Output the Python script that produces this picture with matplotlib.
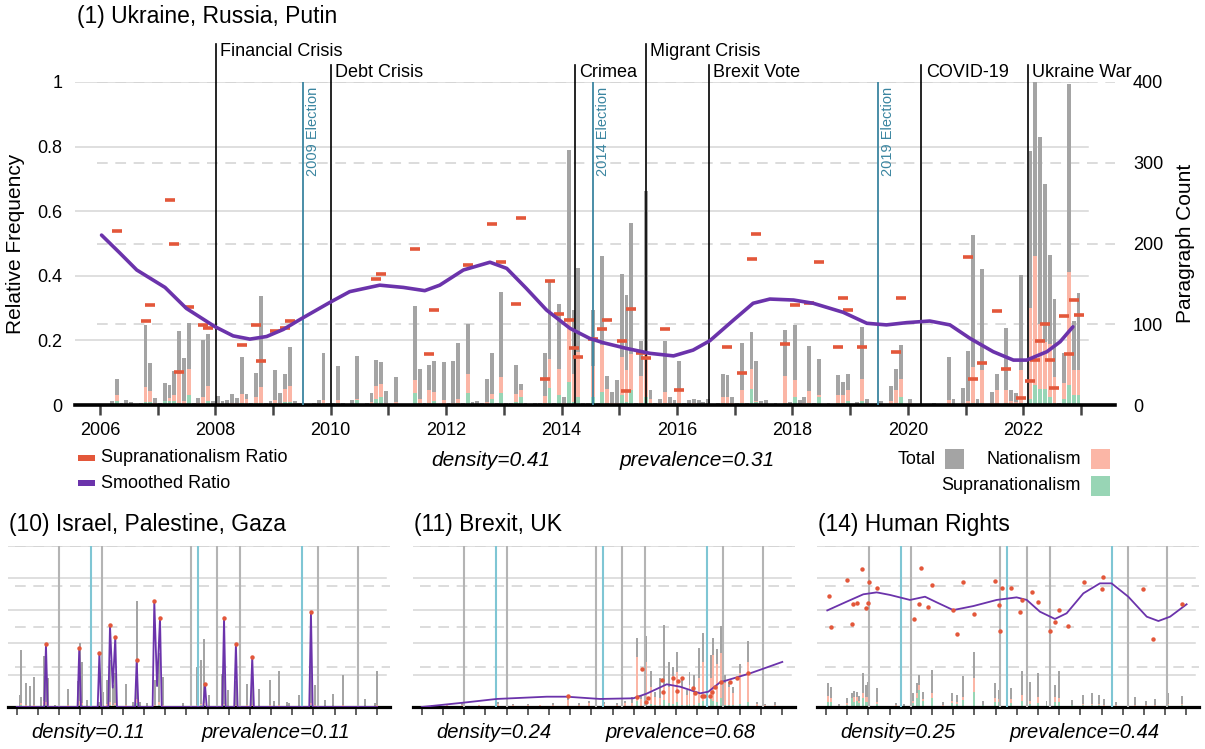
import numpy as np
import matplotlib
matplotlib.use("Agg")
import matplotlib.pyplot as plt
from matplotlib.patches import Rectangle

plt.rcParams['font.family'] = ['Liberation Sans', 'DejaVu Sans']

nan = np.nan

# ---------------- main panel: monthly values, Jan 2006 .. Dec 2022 ----------------
total_rows = [
    [0, 0, 5, 32, 3, 6, 4, 0, 2, 99, 52, 9],            # 2006
    [3, 27, 25, 42, 92, 58, 101, 2, 9, 80, 88, 5],      # 2007
    [11, 5, 6, 14, 9, 60, 14, 2, 40, 135, 2, 5],        # 2008
    [43, 15, 38, 72, 5, 2, 1, 1, 2, 6, 65, 3],          # 2009
    [2, 48, 2, 1, 6, 61, 1, 2, 15, 56, 53, 17],         # 2010
    [1, 35, 1, 1, 1, 122, 44, 2, 50, 55, 1, 53],        # 2011
    [2, 55, 77, 3, 100, 4, 5, 2, 32, 64, 2, 140],       # 2012
    [2, 3, 50, 26, 3, 1, 3, 2, 65, 152, 2, 125],        # 2013
    [10, 316, 118, 170, 2, 3, 118, 2, 184, 36, 16, 31], # 2014
    [162, 136, 225, 3, 79, 265, 19, 3, 7, 79, 10, 6],   # 2015
    [54, 3, 6, 8, 6, 4, 7, 1, 2, 38, 37, 10],           # 2016
    [2, 77, 2, 91, 54, 5, 6, 1, 2, 1, 93, 4],           # 2017
    [99, 6, 10, 73, 2, 57, 1, 2, 1, 37, 29, 38],        # 2018
    [1, 4, 97, 8, 1, 1, 5, 1, 24, 45, 74, 1],           # 2019
    [8, 1, 1, 1, 1, 2, 0, 1, 60, 7, 1, 21],             # 2020
    [67, 211, 7, 168, 1, 16, 39, 1, 95, 19, 15, 161],   # 2021
    [2, 314, 400, 332, 274, 186, 131, 2, 64, 397, 104, 139],  # 2022
]
nationalism_rows = [
    [0, 0, 1, 12, 0, 1, 0, 0, 0, 22, 17, 2],
    [0, 5, 9, 12, 38, 5, 44, 0, 2, 10, 24, 1],
    [2, 1, 1, 3, 2, 14, 7, 0, 10, 22, 0, 1],
    [6, 2, 20, 23, 1, 0, 0, 0, 0, 1, 6, 0],
    [0, 6, 0, 0, 1, 8, 0, 0, 4, 23, 26, 3],
    [0, 4, 0, 0, 0, 31, 8, 0, 18, 16, 0, 6],
    [0, 2, 8, 0, 38, 1, 1, 0, 4, 14, 0, 35],
    [0, 1, 14, 19, 1, 0, 1, 0, 11, 57, 0, 44],
    [3, 105, 39, 66, 0, 1, 48, 0, 74, 20, 3, 2],
    [59, 43, 63, 1, 36, 66, 8, 1, 2, 16, 2, 1],
    [19, 1, 1, 2, 1, 1, 1, 0, 0, 10, 10, 2],
    [0, 19, 0, 44, 5, 1, 1, 0, 0, 0, 36, 1],
    [31, 1, 2, 17, 0, 12, 0, 0, 0, 12, 13, 18],
    [0, 1, 32, 2, 0, 0, 1, 0, 5, 19, 32, 0],
    [2, 0, 0, 0, 0, 0, 0, 0, 6, 1, 0, 3],
    [5, 47, 1, 43, 0, 3, 18, 0, 19, 5, 4, 43],
    [0, 120, 184, 100, 78, 76, 35, 0, 27, 165, 43, 43],
]
supranationalism_rows = [
    [0, 0, 0, 5, 0, 0, 0, 0, 0, 4, 4, 1],
    [0, 5, 5, 5, 3, 1, 12, 0, 1, 1, 5, 0],
    [1, 0, 0, 1, 1, 2, 1, 0, 2, 3, 0, 0],
    [2, 1, 4, 4, 0, 0, 0, 0, 0, 0, 2, 0],
    [0, 2, 0, 0, 0, 6, 0, 0, 1, 8, 10, 1],
    [0, 1, 0, 0, 0, 15, 2, 0, 2, 5, 0, 1],
    [0, 1, 2, 0, 15, 0, 0, 0, 1, 8, 0, 15],
    [0, 0, 4, 10, 0, 0, 0, 0, 2, 21, 0, 12],
    [1, 29, 4, 10, 0, 0, 10, 0, 16, 3, 1, 0],
    [12, 4, 19, 0, 3, 10, 2, 0, 0, 3, 0, 0],
    [2, 0, 0, 0, 0, 0, 0, 0, 0, 2, 1, 0],
    [0, 3, 0, 20, 4, 0, 0, 0, 0, 0, 3, 0],
    [10, 0, 1, 2, 0, 10, 0, 0, 0, 3, 2, 5],
    [0, 0, 5, 1, 0, 0, 0, 0, 1, 3, 10, 0],
    [0, 0, 0, 0, 0, 0, 0, 0, 1, 0, 0, 0],
    [1, 3, 0, 2, 0, 0, 1, 0, 2, 1, 0, 2],
    [0, 7, 25, 20, 20, 10, 3, 0, 7, 25, 12, 12],
]
ratio_rows = [
    [nan, nan, nan, .538, nan, nan, nan, nan, nan, .259, .31, nan],
    [nan, nan, .635, .498, .103, nan, .303, nan, nan, .249, .238, nan],
    [nan, nan, nan, nan, nan, .186, nan, nan, .249, .135, nan, nan],
    [.23, nan, .237, .259, nan, nan, nan, nan, nan, nan, nan, nan],
    [nan, nan, nan, nan, nan, nan, nan, nan, nan, .39, .406, nan],
    [nan, nan, nan, nan, nan, .483, nan, nan, .157, .293, nan, nan],
    [nan, nan, nan, nan, .434, nan, nan, nan, nan, .561, nan, .444],
    [nan, nan, .312, .578, nan, nan, nan, nan, .082, .385, nan, .282],
    [nan, .262, .175, .148, nan, nan, .203, nan, .235, .262, nan, nan],
    [.199, .044, .296, nan, .16, .144, nan, nan, nan, .234, nan, nan],
    [.046, nan, nan, nan, nan, nan, nan, nan, nan, nan, .18, nan],
    [nan, .1, nan, .453, .528, nan, nan, nan, nan, nan, .188, nan],
    [.31, nan, nan, .315, nan, .444, nan, nan, nan, .181, .332, .293],
    [nan, nan, .181, nan, nan, nan, nan, nan, nan, .165, .332, nan],
    [nan] * 12,
    [.459, .082, nan, .131, nan, nan, .292, nan, .111, nan, nan, .022],
    [nan, .074, .139, .199, .25, .139, .054, nan, .275, .157, .324, .279],
]
smooth_t = [2006.03, 2006.35, 2006.64, 2007.13, 2007.5, 2007.99, 2008.31, 2008.6, 2008.89,
            2009.18, 2009.5, 2009.99, 2010.33, 2010.85, 2011.26, 2011.63, 2011.89, 2012.3,
            2012.76, 2013.05, 2013.39, 2013.74, 2014.15, 2014.49, 2014.72, 2015.13, 2015.53,
            2015.94, 2016.28, 2016.57, 2016.98, 2017.32, 2017.61, 2018.02, 2018.36, 2018.88,
            2019.29, 2019.63, 2019.98, 2020.38, 2020.73, 2021.08, 2021.48, 2021.83, 2022.06,
            2022.41, 2022.64, 2022.86]
smooth_v = [.526, .470, .418, .364, .299, .243, .214, .204, .212, .234, .268, .318,
            .351, .371, .364, .354, .371, .418, .442, .423, .361, .294, .237, .206,
            .193, .175, .160, .152, .170, .199, .263, .315, .328, .325, .315, .287,
            .253, .248, .255, .260, .248, .206, .165, .139, .139, .165, .196, .242]

event_names = ['Financial Crisis', 'Debt Crisis', 'Crimea', 'Migrant Crisis',
               'Brexit Vote', 'COVID-19', 'Ukraine War']
event_years = [2008.01, 2010.0, 2014.23, 2015.46, 2016.55, 2020.23, 2022.08]
event_high = [True, False, False, True, False, False, False]
election_names = ['2009 Election', '2014 Election', '2019 Election']
election_years = [2009.52, 2014.54, 2019.48]

# ---------------- small panels ----------------
isr_bar_t = [2006.13, 2006.19, 2006.44, 2006.63, 2006.82, 2007.13, 2007.30, 2007.38, 2007.46, 2007.80,
             2007.97, 2008.44, 2008.88, 2008.99, 2009.08, 2009.33, 2009.90, 2010.09, 2010.28, 2010.40,
             2010.53, 2010.65, 2011.16, 2011.47, 2011.66, 2011.82, 2012.13, 2012.52, 2012.73, 2012.92,
             2013.86, 2014.52, 2014.68, 2014.84, 2015.09, 2015.67, 2015.78, 2015.98, 2016.35, 2016.85,
             2017.12, 2017.45, 2017.95, 2018.14, 2018.37, 2018.74, 2018.86, 2019.32, 2019.88, 2020.07,
             2020.54, 2020.94, 2021.41, 2022.43, 2022.90, 2022.98]
isr_total = [30, 142, 59, 52, 75, 24, 127, 117, 71, 5, 34, 45, 65, 160, 113, 17, 13, 38, 67, 117,
             55, 84, 57, 13, 263, 13, 9, 67, 135, 75, 9, 99, 117, 169, 30, 82, 125, 42, 65, 57,
             96, 45, 67, 15, 90, 13, 11, 30, 108, 55, 17, 32, 79, 19, 9, 90]
isr_nat = [3, 10, 4, 3, 5, 2, 15, 12, 6, 0, 3, 4, 6, 15, 10, 2, 1, 3, 8, 12, 5, 10, 4, 1, 20, 1, 1, 5,
           12, 6, 1, 6, 8, 10, 2, 6, 8, 3, 5, 4, 6, 3, 5, 1, 6, 1, 1, 2, 10, 4, 1, 2, 5, 1, 1, 5]
isr_sup = [1, 4, 1, 1, 2, 0, 5, 4, 2, 0, 1, 1, 2, 6, 4, 0, 0, 1, 3, 6, 2, 4, 1, 0, 10, 0, 0, 2,
           6, 3, 0, 3, 4, 5, 1, 3, 4, 1, 2, 2, 3, 1, 2, 0, 3, 0, 0, 1, 5, 2, 0, 1, 3, 0, 0, 2]
isr_dot_t = [2007.38, 2008.95, 2009.90, 2010.40, 2010.65, 2011.66, 2012.49, 2012.76, 2014.88,
             2015.78, 2016.34, 2017.11, 2019.88]
isr_dot_v = [.389, .368, .337, .509, .435, .29, .658, .555, .143, .555, .391, .312, .592]
isr_line_t = [2006.0, 2007.30, 2007.38, 2007.46, 2008.87, 2008.95, 2009.03, 2009.82, 2009.90, 2009.98,
              2010.32, 2010.40, 2010.53, 2010.65, 2010.73, 2011.58, 2011.66, 2011.74, 2012.41, 2012.49,
              2012.62, 2012.76, 2012.84, 2014.80, 2014.88, 2014.96, 2015.70, 2015.78, 2015.86, 2016.26,
              2016.34, 2016.42, 2017.03, 2017.11, 2017.19, 2019.80, 2019.88, 2019.96, 2023.0]
isr_line_v = [0, 0, .389, 0, 0, .368, 0, 0, .337, 0, 0, .509, .12, .435, 0, 0, .29, 0, 0, .658,
              .13, .555, 0, 0, .143, 0, 0, .555, 0, 0, .391, 0, 0, .312, 0, 0, .592, 0, 0]

brx_bar_t = [2006.5, 2007.2, 2007.9, 2008.7, 2009.6, 2010.3, 2011.0, 2011.6, 2012.2, 2012.92,
             2013.4, 2013.9, 2014.6, 2015.2, 2015.6, 2015.94, 2016.14, 2016.33, 2016.58, 2016.80,
             2017.01, 2017.24, 2017.43, 2017.67, 2017.87, 2018.06, 2018.26, 2018.50, 2018.63, 2018.85,
             2019.10, 2019.25, 2019.47, 2019.63, 2019.76, 2019.91, 2020.10, 2020.31, 2020.51, 2020.70,
             2021.02, 2021.41, 2021.83, 2022.2, 2022.67]
brx_total = [5, 8, 10, 6, 12, 8, 7, 6, 9, 25, 10, 14, 12, 9, 15, 26, 172, 30, 176, 89,
             38, 71, 204, 113, 100, 137, 71, 42, 88, 79, 146, 183, 154, 129, 171, 143, 202, 79, 63, 50,
             106, 164, 13, 8, 13]
brx_nat = [3, 5, 6, 4, 8, 5, 4, 4, 6, 18, 6, 9, 8, 6, 10, 10, 125, 20, 113, 50,
           25, 22, 55, 50, 78, 88, 50, 30, 55, 42, 71, 113, 22, 71, 129, 108, 133, 60, 50, 35,
           84, 113, 8, 5, 5]
brx_sup = [0, 1, 1, 0, 2, 1, 1, 0, 1, 3, 1, 2, 1, 1, 2, 3, 15, 3, 12, 8,
           4, 6, 18, 10, 8, 12, 6, 4, 8, 6, 10, 14, 8, 20, 15, 12, 22, 6, 5, 4,
           8, 12, 1, 1, 1]
brx_dot_t = [2012.92, 2016.14, 2016.38, 2016.58, 2016.69, 2017.32, 2017.40, 2017.87, 2018.03, 2018.11,
             2018.26, 2018.81, 2018.89, 2019.21, 2019.32, 2019.60, 2019.71, 2019.84, 2020.10, 2020.54,
             2020.86, 2021.41]
brx_dot_v = [.068, .064, .234, .033, .054, .168, .091, .178, .099, .161, .178, .120, .085, .070,
             .070, .070, .095, .126, .157, .153, .178, .213]
brx_line_t = [2006.0, 2007.97, 2009.54, 2011.9, 2012.84, 2014.41, 2015.98, 2016.61, 2017.56,
              2018.19, 2019.13, 2019.52, 2020.07, 2021.49, 2023.01]
brx_line_v = [0.0, .027, .05, .064, .064, .05, .054, .083, .141, .126, .085, .095, .153, .209, .28]

hr_bar_t = [2006.11, 2006.24, 2006.6, 2006.97, 2007.21, 2007.32, 2007.45, 2007.57, 2007.73, 2007.87,
            2008.0, 2008.39, 2009.3, 2009.7, 2010.12, 2010.28, 2010.40, 2010.56, 2010.98, 2011.5,
            2011.93, 2012.16, 2012.48, 2012.98, 2013.4, 2013.99, 2014.16, 2014.71, 2015.26, 2015.62,
            2015.98, 2016.4, 2016.82, 2017.01, 2017.6, 2018.14, 2018.53, 2018.88, 2019.1, 2019.7,
            2020.58, 2021.1, 2021.5, 2022.15, 2022.78]
hr_total = [60, 50, 8, 22, 36, 40, 38, 28, 85, 55, 61, 48, 10, 8, 34, 59, 79, 38, 92, 12,
            34, 30, 77, 137, 15, 60, 42, 48, 90, 61, 85, 15, 55, 90, 18, 30, 34, 30, 20, 12,
            24, 14, 20, 34, 27]
hr_nat = [28, 22, 3, 10, 22, 26, 26, 15, 34, 26, 26, 13, 4, 3, 15, 34, 55, 20, 34, 5,
          15, 12, 26, 71, 6, 22, 20, 20, 30, 15, 26, 6, 26, 22, 6, 8, 8, 8, 6, 4,
          6, 4, 6, 8, 8]
hr_sup = [13, 12, 2, 5, 22, 13, 15, 10, 23, 13, 13, 8, 3, 2, 10, 22, 42, 15, 22, 3,
          10, 8, 17, 38, 4, 13, 12, 10, 15, 8, 10, 4, 13, 13, 4, 4, 4, 4, 3, 2,
          3, 2, 3, 4, 4]
hr_dot_t = [2006.16, 2006.22, 2006.97, 2007.21, 2007.29, 2007.48, 2007.71, 2007.89, 2007.97, 2008.04,
            2008.39, 2010.17, 2010.39, 2010.48, 2010.80, 2010.98, 2011.97, 2012.16, 2012.48, 2012.98,
            2013.99, 2014.16, 2014.22, 2014.32, 2014.74, 2015.15, 2015.23, 2015.73, 2015.98, 2016.57,
            2016.82, 2017.01, 2017.40, 2018.17, 2019.0, 2019.08, 2020.94, 2021.41, 2022.78]
hr_dot_v = [.692, .499, .789, .518, .642, .644, .855, .617, .646, .774,
            .741, .547, .638, .865, .619, .758, .602, .453, .774, .578,
            .783, .634, .472, .737, .741, .592, .667, .712, .654, .472,
            .526, .6, .501, .774, .731, .805, .731, .42, .638]
hr_line_t = [2006.06, 2006.97, 2007.76, 2008.39, 2009.02, 2009.96, 2010.67, 2011.22, 2012.0, 2012.95,
             2014.05, 2014.99, 2015.47, 2016.09, 2016.8, 2017.35, 2018.14, 2018.92, 2019.47, 2020.26,
             2021.13, 2021.68, 2022.23, 2023.01]
hr_line_v = [.6, .654, .7, .712, .696, .665, .685, .65, .602, .627, .665, .681, .665, .592, .547,
             .582, .706, .768, .768, .685, .561, .534, .561, .638]

RATIO_TICKS = [0, 0.2, 0.4, 0.6, 0.8, 1.0]
COUNT_TICKS = [0, 100, 200, 300, 400]
XLIM = (2005.57, 2023.59)

GRAY = '#a4a4a4'
SALMON = '#fbb6a6'
GREEN = '#98d5b5'
RED = '#e3573a'
PURPLE = '#6b33ab'
TEAL = '#3a85a0'
TEAL_LIGHT = '#7fc6d4'
EVENT_GRAY = '#b4b4b4'

FIG_W, FIG_H = 1205, 749
fig = plt.figure(figsize=(FIG_W / 100, FIG_H / 100), dpi=100)


def px_axes(left, top, right, bottom):
    return fig.add_axes([left / FIG_W, 1 - bottom / FIG_H,
                         (right - left) / FIG_W, (bottom - top) / FIG_H])


def px_text(x, y, s, **kw):
    fig.text(x / FIG_W, 1 - y / FIG_H, s, **kw)


def px_rect(x, y, w, h, color):
    fig.add_artist(Rectangle((x / FIG_W, 1 - (y + h) / FIG_H), w / FIG_W, h / FIG_H,
                             transform=fig.transFigure, color=color, lw=0))


def setup_panel(ax, solid_to, dash_from, spine_w):
    ax.set_xlim(*XLIM)
    ax.set_ylim(0, COUNT_TICKS[-1])
    for side in ('top', 'left', 'right'):
        ax.spines[side].set_visible(False)
    ax.spines['bottom'].set_linewidth(spine_w)
    ax.spines['bottom'].set_zorder(10)
    ax.set_xticks(range(2006, 2024))
    for v in RATIO_TICKS[1:]:
        ax.axhline(v * COUNT_TICKS[-1], xmin=0, xmax=solid_to, color='#d6d6d6', lw=1.1, zorder=0)
    for c in COUNT_TICKS[1:]:
        ax.axhline(c, xmin=dash_from, xmax=1, color='#d2d2d2', lw=1.1, ls=(0, (7, 5)), zorder=0)
    axr = ax.twinx()
    axr.set_xlim(*XLIM)
    axr.set_ylim(0, 1)
    for s in axr.spines.values():
        s.set_visible(False)
    return axr


def draw_bars(ax, t, tot, nat, sup, width):
    ax.bar(t, tot, width=width, color=GRAY, lw=0, zorder=2)
    ax.bar(t, nat, width=width, color=SALMON, lw=0, zorder=3)
    ax.bar(t, sup, width=width, color=GREEN, lw=0, zorder=4)


# ================= main panel =================
total = np.array(total_rows, float).ravel()
nationalism = np.array(nationalism_rows, float).ravel()
supra = np.array(supranationalism_rows, float).ravel()
ratio = np.array(ratio_rows, float).ravel()
month_t = 2006 + (np.arange(total.size) + 0.5) / 12

ax = px_axes(75, 82, 1115, 405)
axr = setup_panel(ax, solid_to=0.974, dash_from=0.021, spine_w=2.6)
draw_bars(ax, month_t, total, nationalism, supra, 0.8 / 12)

ax.set_xticklabels([str(y) if y % 2 == 0 and y < 2023 else '' for y in range(2006, 2024)])
ax.tick_params(axis='x', direction='out', length=7, width=1.8, color='#444444',
               labelsize=13, pad=5)
ax.yaxis.tick_right()
ax.yaxis.set_label_position('right')
ax.set_yticks(COUNT_TICKS)
ax.set_yticklabels([str(c) for c in COUNT_TICKS])
ax.tick_params(axis='y', length=0, pad=13, labelsize=13)
ax.set_ylabel('Paragraph Count', fontsize=15, labelpad=9)

axr.yaxis.tick_left()
axr.yaxis.set_label_position('left')
axr.set_yticks(RATIO_TICKS)
axr.set_yticklabels(['0', '0.2', '0.4', '0.6', '0.8', '1'])
axr.tick_params(axis='y', length=0, pad=9, labelsize=13)
axr.set_ylabel('Relative Frequency', fontsize=15, labelpad=9)

for name, yr, high in zip(event_names, event_years, event_high):
    top = 1.118 if high else 1.053
    axr.plot([yr, yr], [0, top], color='black', lw=1.2, clip_on=False, zorder=2)
    axr.text(yr + 0.08, top + 0.004, name, fontsize=13, ha='left', va='top', clip_on=False)
for name, yr in zip(election_names, election_years):
    axr.plot([yr, yr], [0, 1.0], color=TEAL, lw=1.3, zorder=2)
    axr.text(yr + 0.05, 0.985, name, fontsize=10.5, color=TEAL, rotation=90,
             ha='left', va='top')

axr.plot(month_t, ratio, ls='none', marker='_', ms=7, mew=2.6, color=RED, zorder=3)
axr.plot(smooth_t, smooth_v, color=PURPLE, lw=2.6, zorder=4, solid_capstyle='round')

px_text(77, 17, '(1) Ukraine, Russia, Putin', fontsize=16.5, va='center', ha='left')

# legend row under the main panel
px_rect(78, 455, 17, 6, RED)
px_text(101, 458, 'Supranationalism Ratio', fontsize=13, va='center')
px_rect(78, 480, 17, 6, PURPLE)
px_text(101, 484, 'Smoothed Ratio', fontsize=13, va='center')
px_text(491, 460, 'density=0.41', fontsize=15, style='italic', ha='center', va='center')
px_text(697, 460, 'prevalence=0.31', fontsize=15, style='italic', ha='center', va='center')
px_text(936, 459, 'Total', fontsize=13, ha='right', va='center')
px_rect(945, 449, 19, 20, GRAY)
px_text(1081, 459, 'Nationalism', fontsize=13, ha='right', va='center')
px_rect(1091, 449, 19, 20, SALMON)
px_text(1081, 485, 'Supranationalism', fontsize=13, ha='right', va='center')
px_rect(1091, 476, 19, 20, GREEN)

# ================= small panels =================
small_panels = [
    ('(10) Israel, Palestine, Gaza', 7.6, isr_bar_t, isr_total, isr_nat, isr_sup,
     isr_dot_t, isr_dot_v, isr_line_t, isr_line_v, 'density=0.11', 'prevalence=0.11'),
    ('(11) Brexit, UK', 412.6, brx_bar_t, brx_total, brx_nat, brx_sup,
     brx_dot_t, brx_dot_v, brx_line_t, brx_line_v, 'density=0.24', 'prevalence=0.68'),
    ('(14) Human Rights', 816.9, hr_bar_t, hr_total, hr_nat, hr_sup,
     hr_dot_t, hr_dot_v, hr_line_t, hr_line_v, 'density=0.25', 'prevalence=0.44'),
]
for (title, left, bt, btot, bnat, bsup, dt, dv, lt, lv, dens, prev) in small_panels:
    sax = px_axes(left, 546, left + 382, 707)
    saxr = setup_panel(sax, solid_to=0.99, dash_from=0.02, spine_w=2.3)
    draw_bars(sax, bt, btot, bnat, bsup, 0.09)
    sax.set_yticks([])
    sax.tick_params(axis='x', direction='out', length=6, width=1.3, color='#555555',
                    labelbottom=False)
    saxr.set_yticks([])
    for yr in event_years:
        saxr.plot([yr, yr], [0, 1.0], color=EVENT_GRAY, lw=1.5, zorder=1)
    for yr in election_years:
        saxr.plot([yr, yr], [0, 1.0], color=TEAL_LIGHT, lw=1.5, zorder=1)
    saxr.plot(lt, lv, color=PURPLE, lw=1.3, zorder=3)
    saxr.plot(dt, dv, ls='none', marker='o', ms=3.2, mec='none', color=RED, zorder=4)
    px_text(left + 1, 524, title, fontsize=16.5, va='center', ha='left')
    px_text(left + 81, 733, dens, fontsize=14.5, style='italic', ha='center', va='center')
    px_text(left + 268, 733, prev, fontsize=14.5, style='italic', ha='center', va='center')

fig.savefig('out.png', dpi=100)
